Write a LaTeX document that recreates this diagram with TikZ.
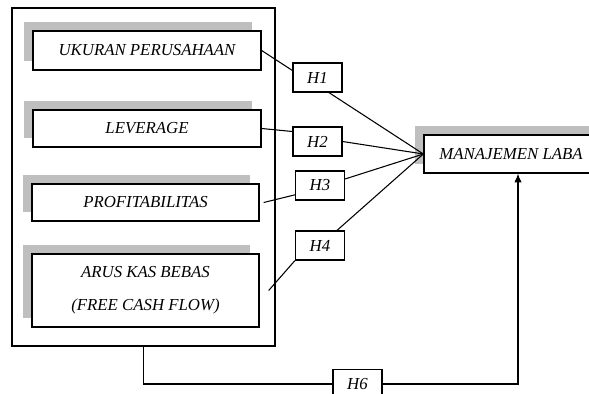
\documentclass[tikz,border=0pt]{standalone}
\usepackage{fontspec}
\setmainfont{Liberation Serif}
\usetikzlibrary{arrows.meta,shadows}

\begin{document}
\begin{tikzpicture}[x=0.75pt,y=-0.75pt,>={Latex[length=6.5pt,width=5.5pt]},thick,
		every node/.style={font=\fontsize{12.6}{15}\selectfont\itshape}]
		\tikzstyle{var}=[draw=black,fill=white,line width=1pt,inner sep=2pt,
			drop shadow={shadow xshift=-6.75pt,shadow yshift=6.75pt,fill=black!25,opacity=1}]
		\tikzstyle{hyp}=[draw=black,fill=white,line width=0.9pt,inner sep=1pt,
			minimum width=36.75pt,minimum height=21.75pt]
		
		\useasboundingbox (0,0) rectangle (589,393);
		
		\node[draw,line width=1.5pt,minimum width=197.25pt,minimum height=253.5pt] (frame) at (143.5,177) {};
		
		\node[var,minimum width=171pt,minimum height=29.25pt]		(ukuran)	at (147,50.5)	{UKURAN PERUSAHAAN};
		\node[var,minimum width=171pt,minimum height=27.75pt]		(leverage)	at (147,128.5)	{LEVERAGE};
		\node[var,minimum width=170.25pt,minimum height=27.75pt]	(profit)	at (145.5,202.5)	{PROFITABILITAS};
		\node[var,minimum width=170.25pt,minimum height=54.75pt,align=center] (arus) at (145.5,290.5) {ARUS KAS BEBAS\\[10pt](FREE CASH FLOW)};
		\node[var,minimum width=130.5pt,minimum height=28.5pt]		(laba)		at (511,154)	{MANAJEMEN LABA};
		
		\node[hyp] (h1) at (317.5,77.5)	{H1};
		\node[hyp] (h2) at (317.5,141.5)	{H2};
		\node[hyp] (h3) at (320,185.5)	{H3};
		\node[hyp] (h4) at (320,245.5)	{H4};
		\node[hyp] (h6) at (357.5,384)	{H6};
		
		\draw (ukuran.east) -- ([yshift=5.25pt]h1.west);
		\draw ([xshift=8.6pt]h1.south) -- (laba.west);
		\draw (leverage.east) -- ([yshift=7.5pt]h2.west);
		\draw (h2.east) -- (laba.west);
		\draw ([xshift=3pt]profit.east) -- ([yshift=-7pt]h3.west);
		\draw ([yshift=4.9pt]h3.east) -- (laba.west);
		\draw ([xshift=6.75pt]arus.east) -- (h4.south west);
		\draw ([xshift=12.75pt]h4.north) -- (laba.west);
		\draw (frame.south) |- (h6.west);
		\draw[->] (h6.east) -| ([xshift=5.25pt]laba.south);
\end{tikzpicture}
\end{document}
